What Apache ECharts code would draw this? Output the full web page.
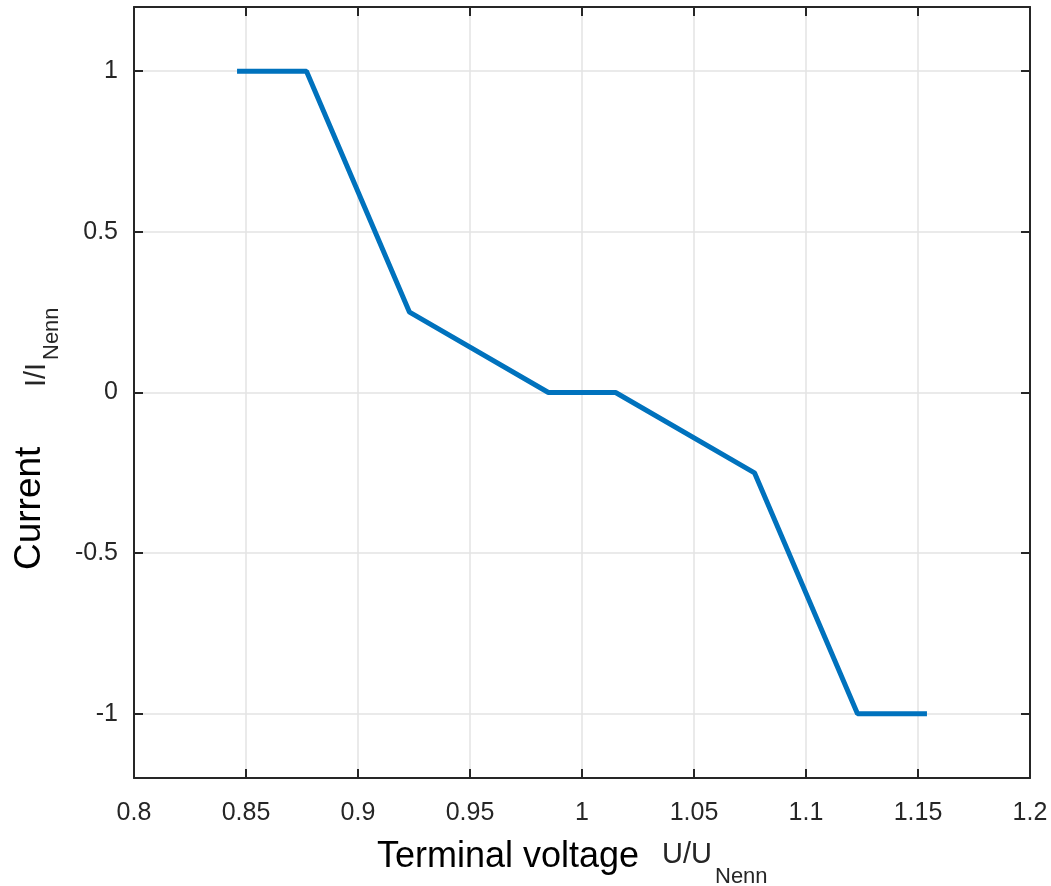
<!DOCTYPE html>
<html>
<head>
<meta charset="utf-8">
<script src="https://cdn.jsdelivr.net/npm/echarts@6/dist/echarts.min.js"></script>
<style>
  html, body { margin: 0; padding: 0; background: #fff; }
  #chart { width: 1051px; height: 886px; }
</style>
</head>
<body>
<div id="chart"></div>
<script>
  // terminal voltage U/U_Nenn
  var voltage = [0.846, 0.877, 0.923, 0.985, 1.015, 1.077, 1.123, 1.154]
  // current I/I_Nenn
  var current = [1, 1, 0.25, 0, 0, -0.25, -1, -1]
  var yTicks = [-1, -0.5, 0, 0.5, 1]

  var ink = '#262626'
  var font = '"Liberation Sans", Arial, Helvetica, sans-serif'

  var chart = echarts.init(document.getElementById('chart'))

  var xBase = {
    type: 'value',
    min: 0.8,
    max: 1.2,
    interval: 0.05,
    axisLine: { show: true, onZero: false, lineStyle: { color: ink, width: 2 } },
    axisTick: { show: true, inside: true, length: 9, lineStyle: { color: ink, width: 2 } }
  }
  var yBase = {
    type: 'value',
    min: -1.2,
    max: 1.2,
    axisLine: { show: true, onZero: false, lineStyle: { color: ink, width: 2 } },
    axisTick: { show: true, inside: true, length: 9, customValues: yTicks, lineStyle: { color: ink, width: 2 } }
  }

  chart.setOption({
    animation: false,
    backgroundColor: '#fff',
    grid: { left: 134, right: 21, top: 7, bottom: 108 },
    xAxis: [
      Object.assign({}, xBase, {
        position: 'bottom',
        axisLabel: { color: ink, fontSize: 25, fontFamily: font, margin: 23 },
        splitLine: { show: true, lineStyle: { color: '#e3e3e3', width: 1.5 } }
      }),
      Object.assign({}, xBase, {
        position: 'top',
        axisLabel: { show: false },
        splitLine: { show: false }
      })
    ],
    yAxis: [
      Object.assign({}, yBase, {
        position: 'left',
        axisLabel: { color: ink, fontSize: 25, fontFamily: font, margin: 16, customValues: yTicks },
        splitLine: { show: true, lineStyle: { color: '#e3e3e3', width: 1.5 } }
      }),
      Object.assign({}, yBase, {
        position: 'right',
        axisLabel: { show: false },
        splitLine: { show: false }
      })
    ],
    series: [{
      type: 'line',
      data: voltage.map(function (v, i) { return [v, current[i]] }),
      symbol: 'none',
      lineStyle: { color: '#0072BD', width: 5 },
      z: 5
    }],
    graphic: [
      { type: 'text', x: 377, y: 857, style: { text: 'Terminal voltage', font: '36px ' + font, fill: '#000', textAlign: 'left', textVerticalAlign: 'middle' } },
      { type: 'text', x: 662, y: 855, style: { text: 'U/U', font: '29px ' + font, fill: ink, textAlign: 'left', textVerticalAlign: 'middle' } },
      { type: 'text', x: 715, y: 877, style: { text: 'Nenn', font: '22px ' + font, fill: ink, textAlign: 'left', textVerticalAlign: 'middle' } },
      { type: 'text', x: 30, y: 570, rotation: Math.PI / 2, style: { text: 'Current', font: '37px ' + font, fill: '#000', textAlign: 'left', textVerticalAlign: 'middle' } },
      { type: 'text', x: 37, y: 387, rotation: Math.PI / 2, style: { text: 'I/I', font: '29px ' + font, fill: ink, textAlign: 'left', textVerticalAlign: 'middle' } },
      { type: 'text', x: 52, y: 360, rotation: Math.PI / 2, style: { text: 'Nenn', font: '22px ' + font, fill: ink, textAlign: 'left', textVerticalAlign: 'middle' } }
    ]
  })
</script>
</body>
</html>
